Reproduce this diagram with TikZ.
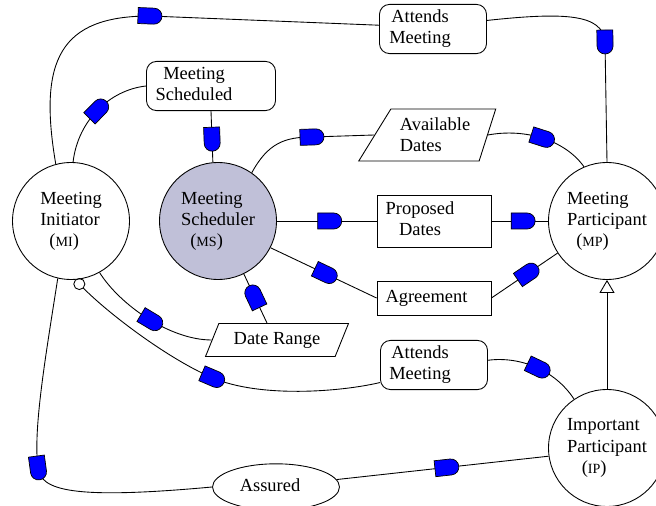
\documentclass[tikz,border=0pt]{standalone}
\usepackage{fontspec}
\setmainfont{Liberation Serif}
\usetikzlibrary{shapes.geometric,arrows.meta}
\definecolor{agentfill}{RGB}{192,192,216}
\newcommand{\boxtext}[2]{\begin{tabular}{@{}c@{\hspace{#1}}}#2\end{tabular}}

\begin{document}
\begin{tikzpicture}[x=0.02cm, y=-0.02cm, line width=0.5pt, allow upside down,
	font=\fontsize{10.5}{12}\selectfont,
	actor/.style={circle, draw, minimum size=2.34cm, inner sep=0pt, align=left},
	goal/.style={rectangle, draw, rounded corners=0.2cm, inner sep=2pt, minimum width=2.14cm, minimum height=0.95cm},
	res/.style={rectangle, draw, inner sep=2pt, minimum width=2.28cm},
	info/.style={trapezium, draw, inner sep=2pt, trapezium stretches body, trapezium left angle=60, trapezium right angle=120, align=left},
	dep/.pic={\draw[fill=blue, line width=0.4pt] (-12,-8) -- (4,-8) arc(-90:90:8) -- (-12,8) -- cycle;}]
	\useasboundingbox (0,0) rectangle (656,506);

	% actors
	\node[actor] (MI) at (71,221) {Meeting\\Initiator\\\hspace*{0.5em}({\fontsize{8}{9}\selectfont MI})};
	\node[actor, fill=agentfill] (MS) at (218,221) {Meeting\\Scheduler\\\hspace*{0.5em}({\fontsize{8}{9}\selectfont MS})};
	\node[actor] (MP) at (607,221) {Meeting\\Participant\\\hspace*{0.5em}({\fontsize{8}{9}\selectfont MP})};
	\node[actor] (IP) at (607,448) {Important\\Participant\\\hspace*{0.8em}({\fontsize{8}{9}\selectfont IP})};

	% dependums
	\node[goal] (att1) at (433,29) {\boxtext{0.52cm}{Attends\\Meeting}};
	\node[goal, minimum width=2.58cm, minimum height=0.9cm] (sched) at (211,86) {\boxtext{0.68cm}{Meeting\\Scheduled}};
	\node[info, minimum width=2.74cm, minimum height=1.04cm, trapezium left angle=52, trapezium right angle=112] (avail) at (435,135) {Available\\Dates};
	\node[res, minimum height=1.04cm] (prop) at (434,221) {\boxtext{0.56cm}{Proposed\\Dates}};
	\node[res, minimum height=0.68cm] (agree) at (434,298) {\boxtext{0.3cm}{Agreement}};
	\node[info, minimum width=2.86cm, minimum height=0.66cm] (range) at (277,340) {Date Range};
	\node[goal] (att2) at (434,365) {\boxtext{0.56cm}{Attends\\Meeting}};
	\node[ellipse, draw, minimum width=2.54cm, minimum height=0.84cm] (assured) at (276,487) {\boxtext{0.24cm}{Assured}};

	% dependency links
	\draw (MI.105) .. controls (38,60) and (60,16) .. (150,16) -- (att1.176) pic[pos=0, sloped]{dep};
	\draw (att1.9) .. controls (565,12) and (603,14) .. (605,42) -- (MP.north) pic[pos=0, sloped]{dep};
	\draw (MI.88) .. controls (78,120) and (110,90) .. (sched.west) pic[pos=0.5, sloped]{dep};
	\draw (sched.south) -- (MS.95) pic[pos=0.55, sloped]{dep};
	\draw (MS.55) .. controls (268,143) and (285,137) .. (312,137) -- (avail.west) pic[pos=0, sloped]{dep};
	\draw (avail.east) .. controls (525,128) and (565,140) .. (MP.113) pic[pos=0.5, sloped]{dep};
	\draw (MS.east) -- (prop.west) pic[pos=0.53, sloped]{dep};
	\draw (prop.east) -- (MP.west) pic[pos=0.56, sloped]{dep};
	\draw (MS.-27) -- (agree.west) pic[pos=0.52, sloped]{dep};
	\draw (agree.east) -- (MP.213) pic[pos=0.55, sloped]{dep};
	\draw ([xshift=-0.2cm]range.north) -- (MS.-64) pic[pos=0.54, sloped]{dep};
	\draw (MI.-61) .. controls (120,305) and (170,340) .. (range.west) pic[pos=0.53, sloped]{dep};
	\draw[{Circle[open, length=0.24cm]}-] (MI.-86) .. controls (110,315) and (170,360) .. (213,378) .. controls (260,398) and (340,392) .. (att2.198) pic[pos=0, sloped]{dep};
	\draw (att2.5) .. controls (520,356) and (555,370) .. (IP.124) pic[pos=0.53, sloped]{dep};
	\draw (MI.-103) .. controls (45,360) and (33,430) .. (38,468) .. controls (41,490) and (70,500) .. (assured.west) pic[pos=0, sloped]{dep};
	\draw (assured.7) -- (IP.188) pic[pos=0.52, sloped]{dep};

	% is-a link
	\draw[-{Triangle[open, width=0.3cm, length=0.26cm]}] (IP.north) -- (MP.south);
\end{tikzpicture}
\end{document}
